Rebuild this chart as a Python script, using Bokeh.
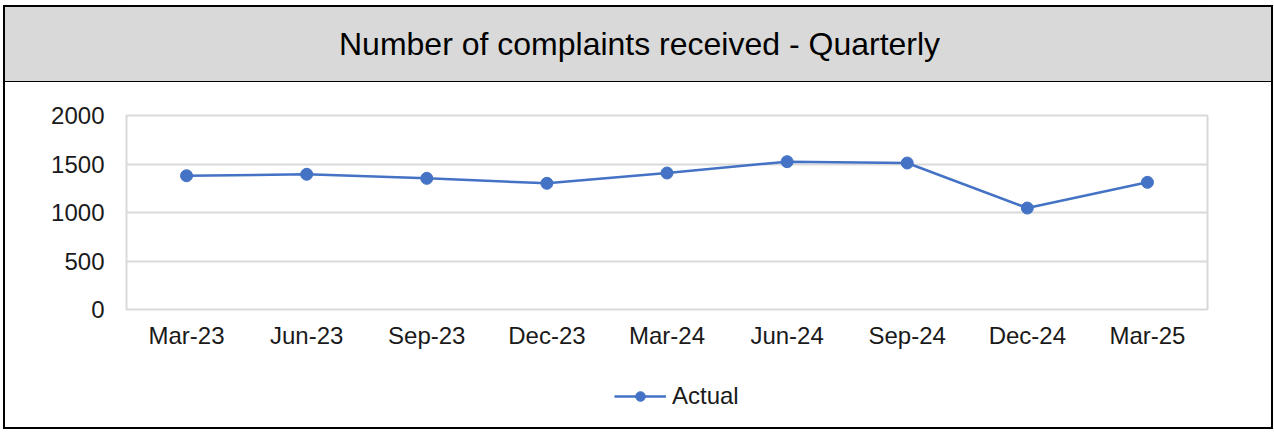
from bokeh.plotting import figure
from bokeh.models import FixedTicker, Legend, LegendItem, ColumnDataSource
from bokeh.layouts import column
from bokeh.core.properties import value
from bokeh.embed import file_html
from bokeh.resources import INLINE

quarters = ["Mar-23", "Jun-23", "Sep-23", "Dec-23", "Mar-24", "Jun-24", "Sep-24", "Dec-24", "Mar-25"]
actual = [1379, 1394, 1352, 1301, 1407, 1524, 1510, 1046, 1311]
y_ticks = [0, 500, 1000, 1500, 2000]
title_text = "Number of complaints received - Quarterly"
series_name = "Actual"

FONT = "Liberation Sans"
BLUE = "#4472C4"
GRID = "#D9D9D9"
BAND = "#D9D9D9"
TXT = "#1a1a1a"

W = 1266
TH = 75
MH = 277
LH = 68
BL, BR = 121, 64

# title band
t = figure(width=W, height=TH, x_range=(0, 1), y_range=(0, 1),
           toolbar_location=None, output_backend="svg",
           min_border_left=BL, min_border_right=BR, min_border_top=0, min_border_bottom=0,
           x_axis_location=None, y_axis_location=None,
           background_fill_color=None, border_fill_color=BAND,
           outline_line_color=None,
           styles={"border-bottom": "1px solid black", "background-color": BAND})
t.grid.visible = False
t.text(x=[0.4746], y=[0.52], text=[title_text], text_font=value(FONT),
       text_font_size="32px", text_align="center", text_baseline="middle",
       text_color="black")

src = ColumnDataSource(dict(q=quarters, v=actual))

p = figure(width=W, height=MH, x_range=quarters, y_range=(0, 2000),
           toolbar_location=None, output_backend="svg",
           min_border_left=BL, min_border_right=BR,
           min_border_top=33, min_border_bottom=50,
           outline_line_color=GRID, outline_line_width=2,
           background_fill_color="white", border_fill_color="white")
p.xgrid.visible = False
p.ygrid.grid_line_color = GRID
p.ygrid.grid_line_width = 2
p.yaxis.ticker = FixedTicker(ticks=y_ticks)
for ax in (p.xaxis[0], p.yaxis[0]):
    ax.axis_line_color = None
    ax.major_tick_line_color = None
    ax.minor_tick_line_color = None
    ax.major_label_text_font = FONT
    ax.major_label_text_font_size = "24px"
    ax.major_label_text_color = TXT
p.yaxis.major_label_standoff = 16
p.xaxis.major_label_standoff = 6

p.line(x="q", y="v", source=src, line_color=BLUE, line_width=2.5)
p.scatter(x="q", y="v", source=src, size=12, fill_color=BLUE, line_color=BLUE)

# legend strip (its renderers are hidden; only their legend swatch is shown)
lf = figure(width=W, height=LH, x_range=p.x_range, y_range=p.y_range,
            toolbar_location=None, output_backend="svg",
            min_border_left=BL, min_border_right=BR, min_border_top=0, min_border_bottom=0,
            x_axis_location=None, y_axis_location=None,
            background_fill_color="white", border_fill_color="white",
            outline_line_color=None)
lf.grid.visible = False
ll = lf.line(x="q", y="v", source=src, line_color=BLUE, line_width=2.5, visible=False)
ls = lf.scatter(x="q", y="v", source=src, size=13, fill_color=BLUE, line_color=BLUE, visible=False)
legend = Legend(items=[LegendItem(label=series_name, renderers=[ll, ls])],
                location=(488, 17), orientation="horizontal",
                border_line_color=None, background_fill_alpha=0,
                padding=0, margin=0, glyph_width=52, glyph_height=24,
                label_standoff=6, label_height=24,
                label_text_font=FONT, label_text_font_size="24px",
                label_text_color=TXT)
lf.add_layout(legend)

layout = column(t, p, lf, spacing=0,
                styles={"border": "2px solid black", "margin-left": "3px",
                        "margin-top": "5px"})

open("out.html", "w").write(file_html(layout, INLINE))
